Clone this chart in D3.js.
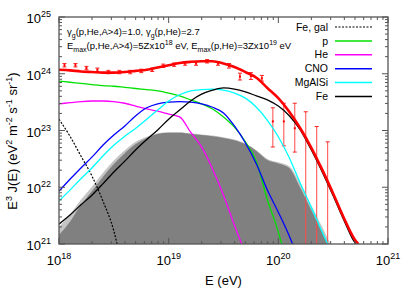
<!DOCTYPE html>
<html>
<head>
<meta charset="utf-8">
<script src="https://cdn.jsdelivr.net/npm/d3@7/dist/d3.min.js"></script>
<style>
  body { margin: 0; background: #fff; }
  svg { display: block; font-family: "Liberation Sans", Arial, sans-serif; }
</style>
</head>
<body>
<div id="chart"></div>
<script>
// log10(E/eV) grid used by the model curves
var lgE = [18.0, 18.1, 18.2, 18.3, 18.4, 18.5, 18.6, 18.7, 18.8, 18.9,
           19.0, 19.1, 19.2, 19.3, 19.4, 19.5, 19.6, 19.7, 19.8, 19.9,
           20.0, 20.1, 20.2, 20.3, 20.4, 20.5, 20.6, 20.7];

// model curves, log10 of E^3 J(E)
var totalLog = [24.07, 24.06, 24.04, 24.03, 24.02, 24.02, 24.03, 24.05, 24.07, 24.11,
                24.15, 24.19, 24.21, 24.22, 24.22, 24.18, 24.12, 24.03, 23.93, 23.75,
                23.57, 23.33, 23.04, 22.70, 22.31, 21.89, 21.45, 21.07];
var feLog = [21.35, 21.51, 21.69, 21.86, 22.06, 22.27, 22.46, 22.66, 22.84, 23.01,
             23.20, 23.36, 23.52, 23.64, 23.71, 23.75, 23.73, 23.68, 23.61, 23.54,
             23.43, 23.26, 23.01, 22.66, 22.27, 21.85, 21.41, 21.02];
var mgalsiLog = [21.76, 21.95, 22.15, 22.34, 22.55, 22.74, 22.90, 23.04, 23.20, 23.36,
                 23.52, 23.63, 23.70, 23.72, 23.73, 23.71, 23.66, 23.57, 23.41, 23.18,
                 22.89, 22.52, 22.07, 21.65, 21.21];
var cnoLog = [21.93, 22.14, 22.34, 22.53, 22.74, 22.92, 23.08, 23.26, 23.40, 23.47,
              23.50, 23.51, 23.50, 23.47, 23.41, 23.31, 23.08, 22.78, 22.41, 21.95,
              21.56, 21.14];
var pLog = [23.87, 23.85, 23.83, 23.81, 23.79, 23.78, 23.76, 23.74, 23.72, 23.70,
            23.66, 23.61, 23.54, 23.47, 23.38, 23.24, 23.06, 22.80, 22.45, 21.78,
            21.21];
var heLog = [23.47, 23.49, 23.51, 23.52, 23.52, 23.51, 23.48, 23.43, 23.38, 23.34,
             23.29, 23.24, 22.97, 22.71, 22.32, 21.86, 21.33];
// where each curve leaves the bottom of the frame (log10 E)
var endE = { total: 20.73, fe: 20.71, mgalsi: 20.45, cno: 20.13, p: 20.03, he: 19.665 };

// galactic iron, dashed
var galE = [18.0, 18.1, 18.2, 18.3, 18.4, 18.5, 18.53];
var galLog = [23.20, 22.90, 22.55, 22.20, 21.76, 21.23, 21.0];

// grey band: light outer edge and dark inner edge
var greyHiLog = [21.30, 21.52, 21.78, 22.01, 22.25, 22.47, 22.65, 22.80, 22.89, 22.95,
                 22.97, 22.97, 22.95, 22.93, 22.91, 22.88, 22.84, 22.77, 22.65, 22.50,
                 22.44, 22.37, 22.06, 21.68, 21.30];
var greyLog = [21.16, 21.39, 21.69, 21.93, 22.18, 22.41, 22.60, 22.76, 22.87, 22.94,
               22.96, 22.96, 22.94, 22.92, 22.90, 22.87, 22.83, 22.76, 22.64, 22.48,
               22.42, 22.34, 21.99, 21.60, 21.21];
var greyHiEnd = 20.475, greyEnd = 20.45;

// measured points (null = upper limit only, no central marker)
var dataE = [18.05, 18.15, 18.25, 18.35, 18.45, 18.55, 18.65, 18.75, 18.85, 18.95,
             19.05, 19.15, 19.25, 19.35, 19.45, 19.55, 19.65, 19.75, 19.85, 19.95,
             20.05, 20.15, 20.25, 20.35, 20.45];
var dataLog = [24.15, 24.15, 24.10, 24.07, 24.03, 24.03, 24.03, 24.05, 24.07, 24.14,
               24.16, 24.18, 24.18, 24.22, 24.18, 24.14, 23.95, 23.96, 23.92, 23.16,
               23.16, 23.04, null, null, null];
var dataHiLog = [24.18, 24.18, 24.13, 24.10, 24.06, 24.06, 24.06, 24.08, 24.10, 24.17,
                 24.19, 24.21, 24.21, 24.25, 24.21, 24.18, 24.01, 24.02, 23.97, 23.40,
                 23.48, 23.48, 23.33, 23.07, 22.80];
var dataLoLog = [24.12, 24.12, 24.07, 24.04, 24.00, 24.00, 24.00, 24.02, 24.04, 24.11,
                 24.13, 24.15, 24.15, 24.19, 24.15, 24.10, 23.89, 23.90, 23.87, 22.71,
                 22.73, 22.62, 20.0, 20.0, 20.0];

var legendNames = ["Fe, gal", "p", "He", "CNO", "MgAlSi", "Fe"];
var legendColors = ["#000000", "#00e000", "#ff00ff", "#0000ff", "#00ffff", "#000000"];

var xTicks = [18, 19, 20, 21];
var yTicks = [21, 22, 23, 24, 25];

var svgWidth = 413, svgHeight = 289;
var margin = { top: 17, right: 25, bottom: 45, left: 59 };
var width = svgWidth - margin.left - margin.right;
var height = svgHeight - margin.top - margin.bottom;

var svg = d3.select("#chart").append("svg")
  .attr("width", svgWidth)
  .attr("height", svgHeight);

var g = svg.append("g").attr("transform", "translate(" + margin.left + "," + margin.top + ")");

var x = d3.scaleLog().domain([1e18, 1e21]).range([0, width]);
var y = d3.scaleLog().domain([1e21, 1e25]).range([height, 0]);

svg.append("defs").append("clipPath").attr("id", "plotclip")
  .append("rect").attr("width", width).attr("height", height);

var plot = g.append("g").attr("clip-path", "url(#plotclip)");

function pts(es, vs) {
  return es.map(function(e, i) { return [Math.pow(10, e), Math.pow(10, vs[i])]; });
}
function withEnd(vs, end) {
  var p = pts(lgE.slice(0, vs.length), vs);
  p.push([Math.pow(10, end), 1e21]);
  return p;
}

// grey area
var area = d3.area().x(function(d) { return x(d[0]); }).y0(height)
  .y1(function(d) { return y(d[1]); }).curve(d3.curveMonotoneX);
plot.append("path").datum(withEnd(greyHiLog, greyHiEnd))
  .attr("fill", "#c4c4c4").attr("d", area);
plot.append("path").datum(withEnd(greyLog, greyEnd))
  .attr("fill", "#808080").attr("d", area);

// error bars + points
var errG = plot.append("g");
dataE.forEach(function(e, i) {
  var cx = x(Math.pow(10, e));
  var hi = y(Math.pow(10, dataHiLog[i]));
  var lo = y(Math.pow(10, dataLoLog[i]));
  var big = (lo - hi) > 10;
  errG.append("line").attr("x1", cx).attr("x2", cx).attr("y1", hi).attr("y2", lo)
    .attr("stroke", big ? "#ff4848" : "#ff0000").attr("stroke-width", 1);
  errG.append("line").attr("x1", cx - 2).attr("x2", cx + 2).attr("y1", hi).attr("y2", hi)
    .attr("stroke", "#ff2020").attr("stroke-width", 1);
  errG.append("line").attr("x1", cx - 2).attr("x2", cx + 2).attr("y1", lo).attr("y2", lo)
    .attr("stroke", "#ff2020").attr("stroke-width", 1);
  if (dataLog[i] !== null) {
    errG.append("rect").attr("x", cx - 1).attr("y", y(Math.pow(10, dataLog[i])) - 1)
      .attr("width", 2).attr("height", 2).attr("fill", "#ff0000");
  }
});

var line = d3.line().x(function(d) { return x(d[0]); }).y(function(d) { return y(d[1]); })
  .curve(d3.curveMonotoneX);

// galactic Fe
plot.append("path").datum(pts(galE, galLog))
  .attr("fill", "none").attr("stroke", "#000").attr("stroke-width", 1.2)
  .attr("stroke-dasharray", "2,1.5").attr("d", line);

var curves = [
  { vals: pLog, end: endE.p, color: legendColors[1] },
  { vals: heLog, end: endE.he, color: legendColors[2] },
  { vals: cnoLog, end: endE.cno, color: legendColors[3] },
  { vals: mgalsiLog, end: endE.mgalsi, color: legendColors[4] },
  { vals: feLog, end: endE.fe, color: legendColors[5] }
];
curves.forEach(function(c) {
  plot.append("path").datum(withEnd(c.vals, c.end))
    .attr("fill", "none").attr("stroke", c.color).attr("stroke-width", 1.3).attr("d", line);
});

plot.append("path").datum(withEnd(totalLog, endE.total))
  .attr("fill", "none").attr("stroke", "#ff0000").attr("stroke-width", 2.6).attr("d", line);

// ticks (inside, mirrored)
var tickG = g.append("g").attr("stroke", "#555").attr("stroke-width", 1);
var xMinor = [], yMinor = [];
for (var d = 18; d < 21; d++) for (var m = 2; m < 10; m++) xMinor.push(m * Math.pow(10, d));
for (var d2 = 21; d2 < 25; d2++) for (var m2 = 2; m2 < 10; m2++) yMinor.push(m2 * Math.pow(10, d2));

xTicks.forEach(function(t) {
  var px = x(Math.pow(10, t));
  tickG.append("line").attr("x1", px).attr("x2", px).attr("y1", height).attr("y2", height - 6);
  tickG.append("line").attr("x1", px).attr("x2", px).attr("y1", 0).attr("y2", 6);
});
xMinor.forEach(function(t) {
  var px = x(t);
  tickG.append("line").attr("x1", px).attr("x2", px).attr("y1", height).attr("y2", height - 3);
  tickG.append("line").attr("x1", px).attr("x2", px).attr("y1", 0).attr("y2", 3);
});
yTicks.forEach(function(t) {
  var py = y(Math.pow(10, t));
  tickG.append("line").attr("x1", 0).attr("x2", 6).attr("y1", py).attr("y2", py);
  tickG.append("line").attr("x1", width).attr("x2", width - 6).attr("y1", py).attr("y2", py);
});
yMinor.forEach(function(t) {
  var py = y(t);
  tickG.append("line").attr("x1", 0).attr("x2", 3).attr("y1", py).attr("y2", py);
  tickG.append("line").attr("x1", width).attr("x2", width - 3).attr("y1", py).attr("y2", py);
});

// frame
g.append("rect").attr("width", width).attr("height", height)
  .attr("fill", "none").attr("stroke", "#555").attr("stroke-width", 1.3);

// tick labels
xTicks.forEach(function(t) {
  var tx = g.append("text").attr("x", x(Math.pow(10, t))).attr("y", height + 21)
    .attr("text-anchor", "middle").attr("font-size", 13);
  tx.append("tspan").text("10");
  tx.append("tspan").attr("dy", -6).attr("font-size", 9).text(t);
});
yTicks.forEach(function(t) {
  var ty = g.append("text").attr("x", -8).attr("y", y(Math.pow(10, t)) + 6)
    .attr("text-anchor", "end").attr("font-size", 13);
  ty.append("tspan").text("10");
  ty.append("tspan").attr("dy", -6).attr("font-size", 9).text(t);
});

// axis titles
svg.append("text").attr("x", margin.left + width / 2).attr("y", 285)
  .attr("text-anchor", "middle").attr("font-size", 13).text("E (eV)");

var yl = svg.append("text").attr("transform", "translate(17,141) rotate(-90)")
  .attr("text-anchor", "middle").attr("font-size", 13);
yl.append("tspan").text("E");
yl.append("tspan").attr("dy", -5).attr("font-size", 9).text("3");
yl.append("tspan").attr("dy", 5).text(" J(E) (eV");
yl.append("tspan").attr("dy", -5).attr("font-size", 9).text("2");
yl.append("tspan").attr("dy", 5).text(" m");
yl.append("tspan").attr("dy", -5).attr("font-size", 9).text("-2");
yl.append("tspan").attr("dy", 5).text(" s");
yl.append("tspan").attr("dy", -5).attr("font-size", 9).text("-1");
yl.append("tspan").attr("dy", 5).text(" sr");
yl.append("tspan").attr("dy", -5).attr("font-size", 9).text("-1");
yl.append("tspan").attr("dy", 5).text(")");

// annotation
var a1 = svg.append("text").attr("x", 67).attr("y", 35).attr("font-size", 9.5);
a1.append("tspan").text("\u03b3");
a1.append("tspan").attr("dy", 3).attr("font-size", 7).text("g");
a1.append("tspan").attr("dy", -3).text("(p,He,A>4)=1.0, \u03b3");
a1.append("tspan").attr("dy", 3).attr("font-size", 7).text("g");
a1.append("tspan").attr("dy", -3).text("(p,He)=2.7");

var a2 = svg.append("text").attr("x", 67).attr("y", 49).attr("font-size", 9.5);
a2.append("tspan").text("E");
a2.append("tspan").attr("dy", 3).attr("font-size", 7).text("max");
a2.append("tspan").attr("dy", -3).text("(p,He,A>4)=5Zx10");
a2.append("tspan").attr("dy", -4).attr("font-size", 7).text("18");
a2.append("tspan").attr("dy", 4).text(" eV, E");
a2.append("tspan").attr("dy", 3).attr("font-size", 7).text("max");
a2.append("tspan").attr("dy", -3).text("(p,He)=3Zx10");
a2.append("tspan").attr("dy", -4).attr("font-size", 7).text("19");
a2.append("tspan").attr("dy", 4).text(" eV");

// legend
var leg = svg.append("g");
legendNames.forEach(function(name, i) {
  var ly = 27 + i * 13.9;
  leg.append("text").attr("x", 328).attr("y", ly + 3.6).attr("text-anchor", "end")
    .attr("font-size", 10.5).text(name);
  leg.append("line").attr("x1", 335).attr("x2", 372).attr("y1", ly).attr("y2", ly)
    .attr("stroke", legendColors[i]).attr("stroke-width", i === 0 ? 1.2 : 1.5)
    .attr("stroke-dasharray", i === 0 ? "2,1.5" : null);
});
</script>
</body>
</html>
